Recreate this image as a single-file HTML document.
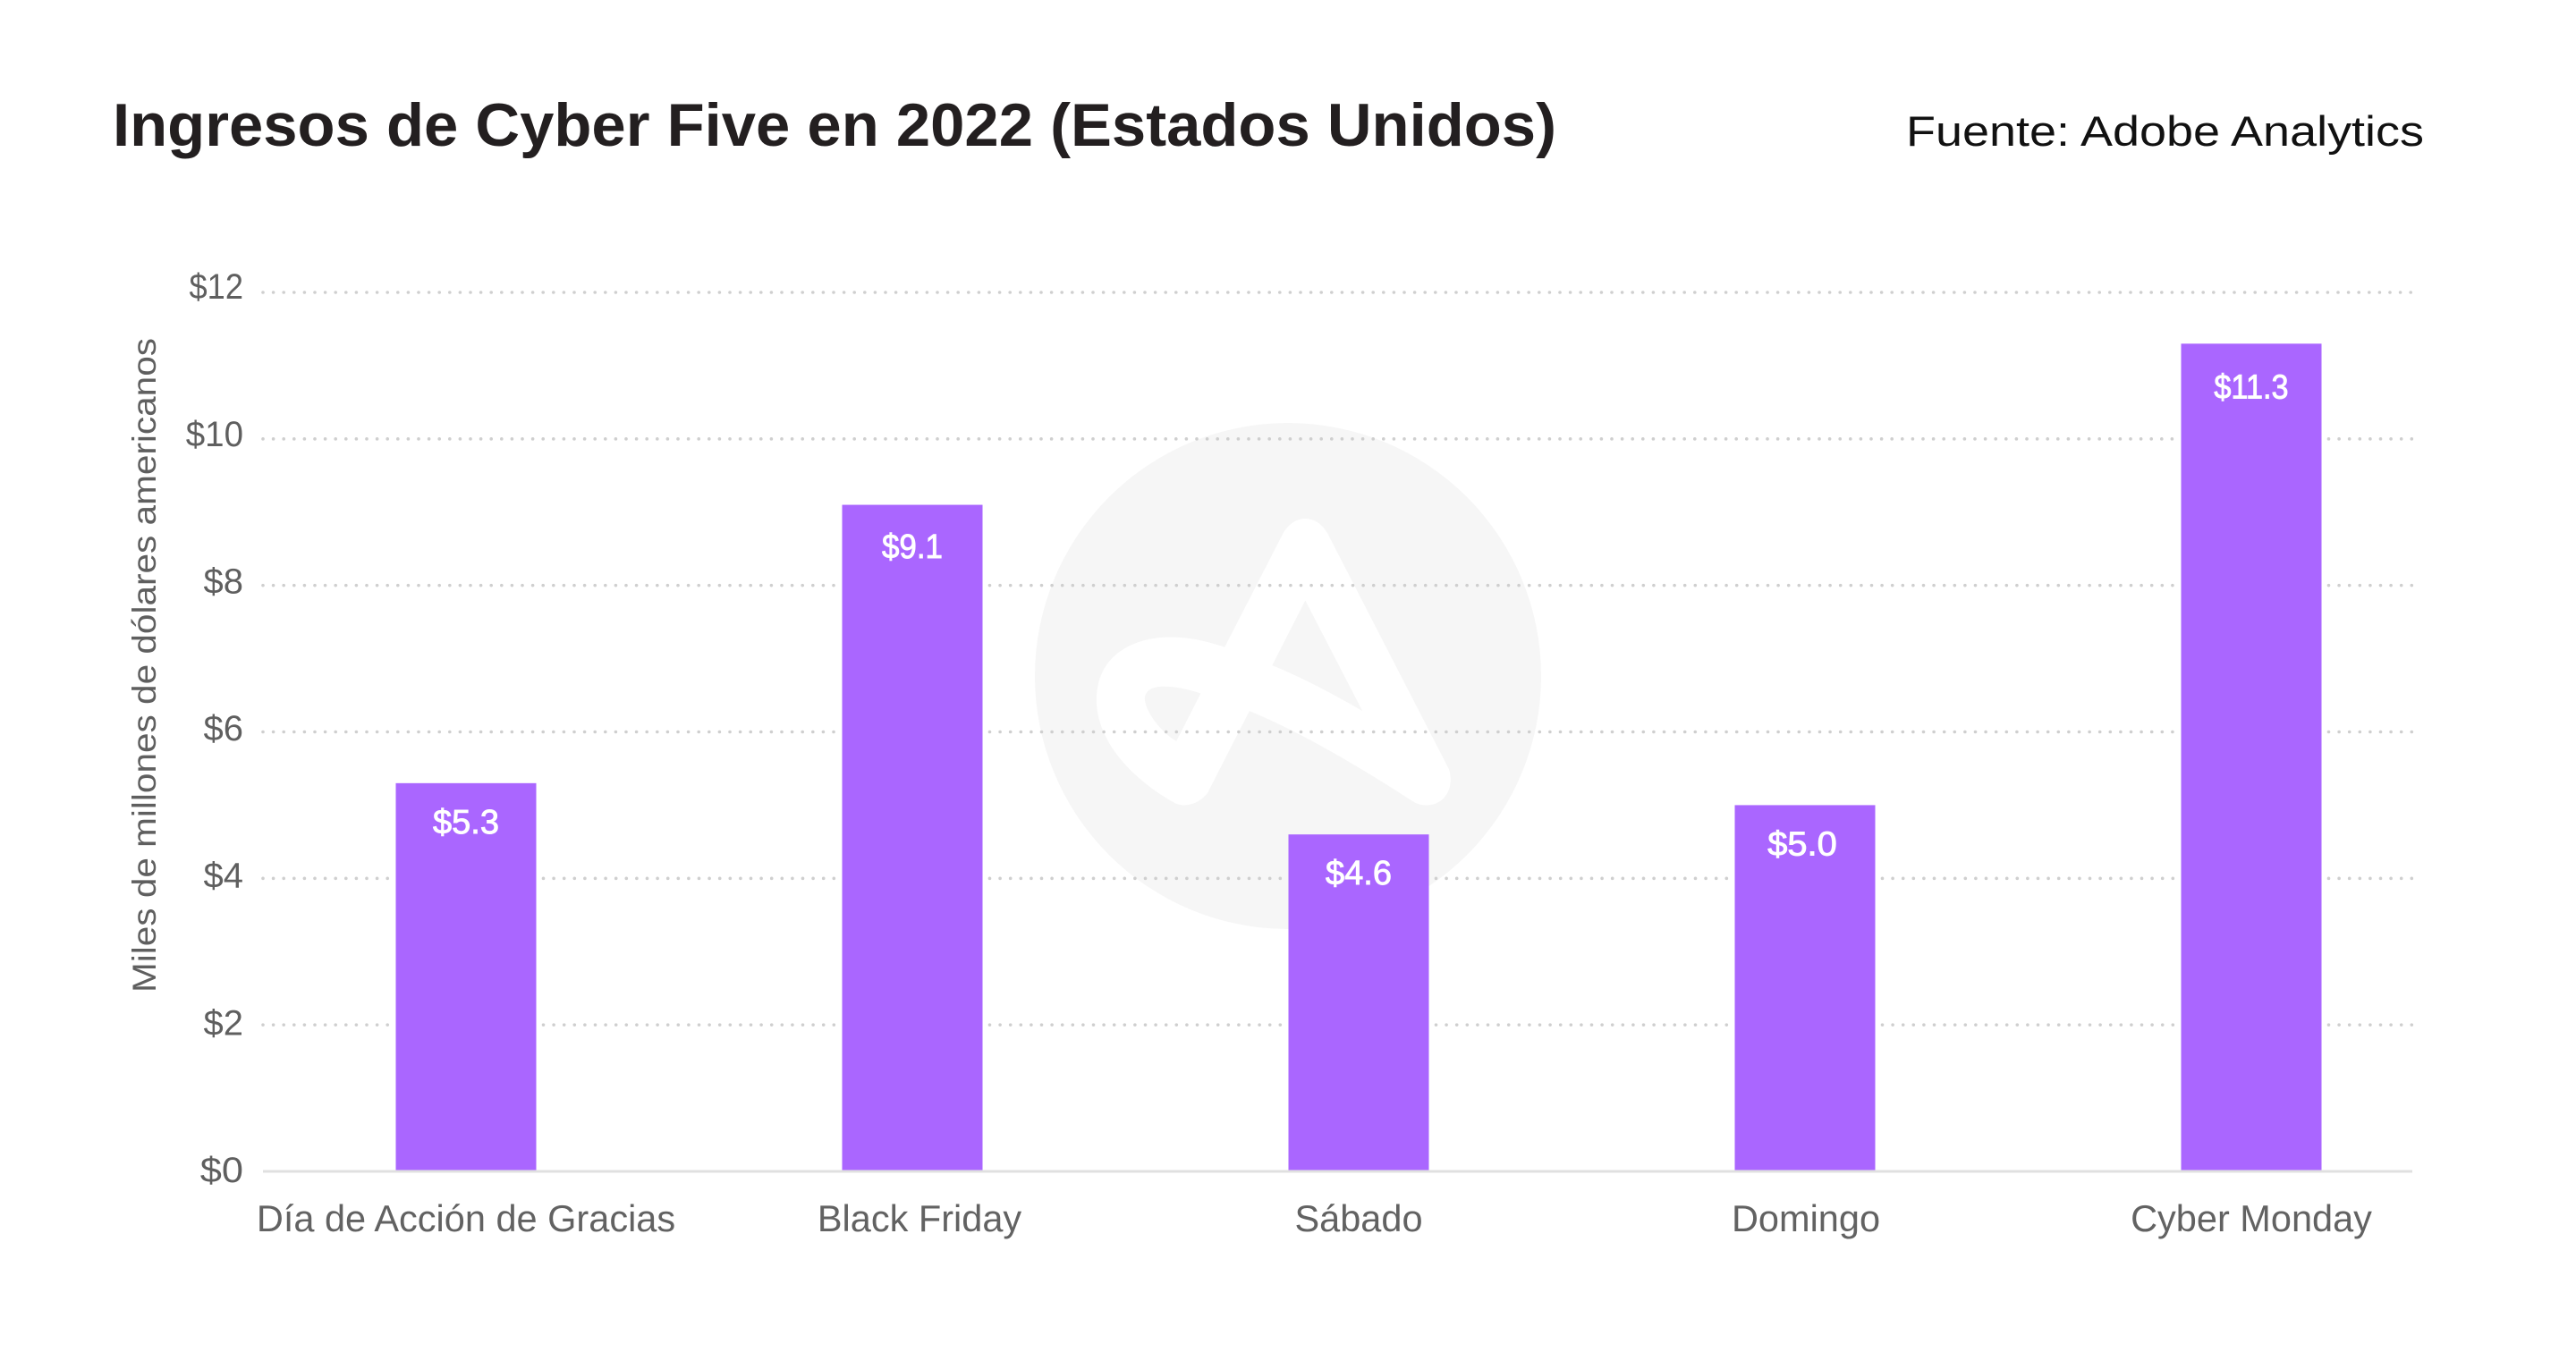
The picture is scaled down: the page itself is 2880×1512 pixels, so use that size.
<!DOCTYPE html>
<html lang="es">
<head>
<meta charset="utf-8">
<title>Ingresos de Cyber Five en 2022</title>
<style>
html,body{margin:0;padding:0;background:#fff;width:2880px;height:1512px;overflow:hidden}
svg{display:block}
text{font-family:"Liberation Sans",sans-serif}
</style>
</head>
<body>
<svg id="chart" xmlns="http://www.w3.org/2000/svg" width="2880" height="1512" viewBox="0 0 2880 1512">
  <rect width="2880" height="1512" fill="#ffffff"/>
  <g>
    <circle cx="1440" cy="756" r="283" fill="#f6f6f6"/>
    <path transform="translate(1100 440) scale(.4464 .4082)" fill="#ffffff" fill-rule="evenodd" d="M750 382 C765 355 785 343 805 343 C825 343 845 355 860 382 L1165 1030 C1180 1085 1150 1128 1110 1128 C1095 1128 1085 1125 1075 1118 C950 1030 800 930 665 870 L560 1095 C545 1115 525 1128 500 1128 C490 1128 480 1124 475 1120 C400 1075 280 970 282 835 C285 700 400 665 470 668 C520 668 560 680 603 695 Z M805 567 L948 870 C870 820 790 775 722 745 Z M543 822 L482 953 C440 925 405 870 403 838 C403 815 420 803 450 803 C480 803 510 810 543 822 Z"/>
  </g>
  <text x="126" y="163" font-size="68" font-weight="700" fill="#231f20" textLength="1614" lengthAdjust="spacingAndGlyphs">Ingresos de Cyber Five en 2022 (Estados Unidos)</text>
  <text x="2131" y="163" font-size="47" fill="#111111" textLength="579" lengthAdjust="spacingAndGlyphs">Fuente: Adobe Analytics</text>
  <text transform="translate(174 1110) rotate(-90)" font-size="37" fill="#5f5f5f" textLength="732" lengthAdjust="spacingAndGlyphs">Miles de millones de dólares americanos</text>
  <g id="grid"></g>
  <g id="bars"></g>
  <line x1="294" x2="2697" y1="1310" y2="1310" stroke="#e0e0e0" stroke-width="3"/>
  <g id="y-labels"></g>
  <g id="x-labels"></g>
</svg>
<script>
const categories = ["Día de Acción de Gracias", "Black Friday", "Sábado", "Domingo", "Cyber Monday"];
const revenue = [5.3, 9.1, 4.6, 5.0, 11.3];
const yTicks = [0, 2, 4, 6, 8, 10, 12];

const NS = "http://www.w3.org/2000/svg";
const yMax = 12;
const plotBottom = 1310, plotTop = 327;
const plotLeft = 294, plotRight = 2697;
const firstCenter = 521, lastCenter = 2517;
const barWidth = 157;
const gridGap = 8;

function yScale(v) { return plotBottom - (v / yMax) * (plotBottom - plotTop); }
function xCenter(i) { return firstCenter + i * (lastCenter - firstCenter) / (categories.length - 1); }
function make(tag, parent, attrs, txt) {
  const el = document.createElementNS(NS, tag);
  for (const k in attrs) el.setAttribute(k, attrs[k]);
  if (txt !== undefined) el.textContent = txt;
  parent.appendChild(el);
  return el;
}
function numberWidth(s, size) {
  let w = 0;
  for (const c of s) {
    if (c === "1") w += 0.4;
    else if (c === "0") w += 0.65;
    else if (c === ".") w += 0.278;
    else w += 0.556;
  }
  return w * size;
}

const gridG = document.getElementById("grid");
const barsG = document.getElementById("bars");
const yG = document.getElementById("y-labels");
const xG = document.getElementById("x-labels");

yTicks.forEach(function (t) {
  if (t !== 0) {
    let start = plotLeft;
    const stops = [];
    revenue.forEach(function (v, i) {
      if (v >= t) stops.push(i);
    });
    stops.concat([null]).forEach(function (i) {
      const end = i === null ? plotRight : xCenter(i) - barWidth / 2 - gridGap;
      const gl = make("line", gridG, {
        x1: start, x2: end, y1: yScale(t), y2: yScale(t),
        stroke: "#cfcfcf", "stroke-width": 3.6, "stroke-linecap": "round", "stroke-dasharray": "0 11.6"
      });
      
      
      if (i !== null) start = xCenter(i) + barWidth / 2 + gridGap;
    });
  }
  const tickText = "$" + t;
  const lab = make("text", yG, {
    x: 272, y: yScale(t) + 12 - t * 0.4, "text-anchor": "end", "font-size": 40, fill: "#5f5f5f",
    textLength: numberWidth(tickText, 40), lengthAdjust: "spacingAndGlyphs"
  }, tickText);
  
  
});

revenue.forEach(function (v, i) {
  const cx = xCenter(i);
  const top = yScale(v);
  const bar = make("rect", barsG, {
    x: cx - barWidth / 2, y: top, width: barWidth, height: plotBottom - top, fill: "#aa66ff"
  });
  
  
  const valueText = "$" + v.toFixed(1);
  const val = make("text", barsG, {
    x: cx + (i === 3 ? -3 : 0), y: top + 56 + (v - 5) * 0.8, "text-anchor": "middle", "font-size": 38, fill: "#ffffff",
    stroke: "#ffffff", "stroke-width": 0.9,
    textLength: numberWidth(valueText, 38), lengthAdjust: "spacingAndGlyphs"
  }, valueText);
  
  
  const cat = make("text", xG, {
    x: cx + (i === 1 ? 8 : i === 3 ? 1 : 0), y: 1377, "text-anchor": "middle", "font-size": 41.5, fill: "#626262"
  }, categories[i]);
  
  
});
</script>
</body>
</html>
